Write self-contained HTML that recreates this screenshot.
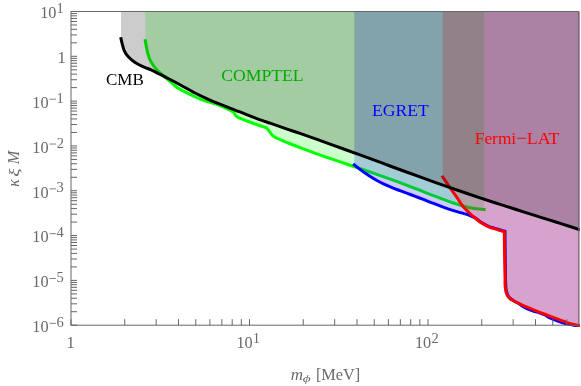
<!DOCTYPE html>
<html><head><meta charset="utf-8"><title>plot</title>
<style>
html,body{margin:0;padding:0;background:#fff;}
body{width:581px;height:386px;overflow:hidden;}
svg{display:block;}
text{font-family:"Liberation Serif",serif;}
</style></head><body>
<svg width="581" height="386" viewBox="0 0 581 386">
<rect width="581" height="386" fill="#fff"/>
<defs><clipPath id="c"><rect x="71.0" y="11.5" width="508.65" height="315.59999999999997"/></clipPath></defs>
<g clip-path="url(#c)" fill="none" stroke-linejoin="miter" stroke-linecap="square">
<path d="M145.30,40.70 C145.43,41.45 145.73,43.30 146.10,45.20 C146.47,47.10 146.92,49.80 147.50,52.10 C148.08,54.40 148.68,56.85 149.60,59.00 C150.52,61.15 151.72,63.13 153.00,65.00 C154.28,66.87 155.57,68.40 157.30,70.20 C159.03,72.00 161.62,74.23 163.40,75.80 C165.18,77.37 166.50,78.30 168.00,79.60 C169.50,80.90 171.15,82.50 172.40,83.60 C173.65,84.70 174.45,85.37 175.50,86.20 C176.55,87.03 177.65,87.90 178.70,88.60 C179.75,89.30 180.77,89.85 181.80,90.40 C182.83,90.95 183.53,91.25 184.90,91.90 C186.27,92.55 187.12,92.98 190.00,94.30 C192.88,95.62 197.02,97.85 202.20,99.80 C207.38,101.75 216.13,104.10 221.10,106.00 C226.07,107.90 230.18,110.33 232.00,111.20 L232.00,111.20 C232.33,111.47 233.28,111.97 234.00,112.80 C234.72,113.63 235.28,115.27 236.30,116.20 C237.32,117.13 237.18,117.18 240.10,118.40 C243.02,119.62 249.38,121.92 253.80,123.50 C258.22,125.08 264.47,127.17 266.60,127.90 L266.60,127.90 C266.87,128.22 267.50,128.88 268.20,129.80 C268.90,130.72 269.90,132.30 270.80,133.40 C271.70,134.50 272.32,135.47 273.60,136.40 C274.88,137.33 275.77,137.77 278.50,139.00 C281.23,140.23 286.08,142.19 290.00,143.76 C293.92,145.33 298.00,146.90 302.00,148.41 C306.00,149.92 310.00,151.38 314.00,152.82 C318.00,154.26 322.00,155.66 326.00,157.05 C330.00,158.44 334.00,159.80 338.00,161.16 C342.00,162.52 346.00,163.87 350.00,165.22 C354.00,166.57 358.00,167.91 362.00,169.27 C366.00,170.63 370.00,171.99 374.00,173.38 C378.00,174.77 382.00,176.16 386.00,177.59 C390.00,179.02 394.00,180.48 398.00,181.96 C402.00,183.44 406.00,184.96 410.00,186.49 C414.00,188.02 418.00,189.59 422.00,191.15 C426.00,192.71 430.00,194.31 434.00,195.85 C438.00,197.39 442.00,198.96 446.00,200.40 C450.00,201.84 454.00,203.29 458.00,204.51 C462.00,205.73 466.00,206.89 470.00,207.70 C474.00,208.50 479.63,209.03 482.00,209.34 C484.37,209.65 483.83,209.52 484.20,209.55 L484.20,11.5 L145.30,11.5 Z" fill="rgb(0,255,0)" fill-opacity="0.2"/>
<path d="M145.30,40.70 C145.43,41.45 145.73,43.30 146.10,45.20 C146.47,47.10 146.92,49.80 147.50,52.10 C148.08,54.40 148.68,56.85 149.60,59.00 C150.52,61.15 151.72,63.13 153.00,65.00 C154.28,66.87 155.57,68.40 157.30,70.20 C159.03,72.00 161.62,74.23 163.40,75.80 C165.18,77.37 166.50,78.30 168.00,79.60 C169.50,80.90 171.15,82.50 172.40,83.60 C173.65,84.70 174.45,85.37 175.50,86.20 C176.55,87.03 177.65,87.90 178.70,88.60 C179.75,89.30 180.77,89.85 181.80,90.40 C182.83,90.95 183.53,91.25 184.90,91.90 C186.27,92.55 187.12,92.98 190.00,94.30 C192.88,95.62 197.02,97.85 202.20,99.80 C207.38,101.75 216.13,104.10 221.10,106.00 C226.07,107.90 230.18,110.33 232.00,111.20 L232.00,111.20 C232.33,111.47 233.28,111.97 234.00,112.80 C234.72,113.63 235.28,115.27 236.30,116.20 C237.32,117.13 237.18,117.18 240.10,118.40 C243.02,119.62 249.38,121.92 253.80,123.50 C258.22,125.08 264.47,127.17 266.60,127.90 L266.60,127.90 C266.87,128.22 267.50,128.88 268.20,129.80 C268.90,130.72 269.90,132.30 270.80,133.40 C271.70,134.50 272.32,135.47 273.60,136.40 C274.88,137.33 275.77,137.77 278.50,139.00 C281.23,140.23 286.08,142.19 290.00,143.76 C293.92,145.33 298.00,146.90 302.00,148.41 C306.00,149.92 310.00,151.38 314.00,152.82 C318.00,154.26 322.00,155.66 326.00,157.05 C330.00,158.44 334.00,159.80 338.00,161.16 C342.00,162.52 346.00,163.87 350.00,165.22 C354.00,166.57 358.00,167.91 362.00,169.27 C366.00,170.63 370.00,171.99 374.00,173.38 C378.00,174.77 382.00,176.16 386.00,177.59 C390.00,179.02 394.00,180.48 398.00,181.96 C402.00,183.44 406.00,184.96 410.00,186.49 C414.00,188.02 418.00,189.59 422.00,191.15 C426.00,192.71 430.00,194.31 434.00,195.85 C438.00,197.39 442.00,198.96 446.00,200.40 C450.00,201.84 454.00,203.29 458.00,204.51 C462.00,205.73 466.00,206.89 470.00,207.70 C474.00,208.50 479.63,209.03 482.00,209.34 C484.37,209.65 483.83,209.52 484.20,209.55" stroke="rgb(0,255,0)" stroke-width="3.0"/>
<path d="M354.30,164.80 C355.25,165.56 357.72,167.62 360.00,169.33 C362.28,171.04 365.33,173.29 368.00,175.07 C370.67,176.85 373.33,178.49 376.00,179.99 C378.67,181.50 381.33,182.83 384.00,184.10 C386.67,185.37 389.33,186.49 392.00,187.59 C394.67,188.69 397.33,189.69 400.00,190.70 C402.67,191.71 405.33,192.67 408.00,193.66 C410.67,194.65 413.33,195.64 416.00,196.65 C418.67,197.66 421.33,198.69 424.00,199.72 C426.67,200.75 429.33,201.82 432.00,202.85 C434.67,203.88 437.33,204.93 440.00,205.92 C442.67,206.91 445.33,207.89 448.00,208.80 C450.67,209.71 453.33,210.56 456.00,211.37 C458.67,212.18 461.67,212.98 464.00,213.68 C466.33,214.38 468.22,214.95 470.00,215.60 C471.78,216.25 473.15,216.72 474.70,217.60 C476.25,218.48 477.75,219.87 479.30,220.90 C480.85,221.93 482.45,222.90 484.00,223.80 C485.55,224.70 487.05,225.63 488.60,226.30 C490.15,226.97 491.73,227.30 493.30,227.80 C494.87,228.30 496.45,228.83 498.00,229.30 C499.55,229.77 501.43,230.27 502.60,230.60 C503.77,230.93 504.60,231.18 505.00,231.30 L505.00,231.30 C505.03,234.58 505.10,242.53 505.20,251.00 C505.30,259.47 505.38,275.37 505.60,282.10 C505.82,288.83 505.93,288.87 506.50,291.40 C507.07,293.93 507.75,295.72 509.00,297.30 C510.25,298.88 512.33,299.82 514.00,300.90 C515.67,301.98 517.33,302.77 519.00,303.80 C520.67,304.83 521.73,305.93 524.00,307.10 C526.27,308.27 529.93,309.82 532.60,310.80 C535.27,311.78 537.93,312.30 540.00,313.00 C542.07,313.70 543.37,314.20 545.00,315.00 C546.63,315.80 547.55,316.73 549.80,317.80 C552.05,318.87 555.97,320.43 558.50,321.40 C561.03,322.37 563.25,323.13 565.00,323.60 C566.75,324.07 567.52,323.92 569.00,324.20 C570.48,324.48 572.07,325.00 573.90,325.30 C575.73,325.60 578.98,325.88 580.00,326.00 L580.00,11.5 L354.30,11.5 Z" fill="rgb(0,0,255)" fill-opacity="0.2"/>
<path d="M354.30,164.80 C355.25,165.56 357.72,167.62 360.00,169.33 C362.28,171.04 365.33,173.29 368.00,175.07 C370.67,176.85 373.33,178.49 376.00,179.99 C378.67,181.50 381.33,182.83 384.00,184.10 C386.67,185.37 389.33,186.49 392.00,187.59 C394.67,188.69 397.33,189.69 400.00,190.70 C402.67,191.71 405.33,192.67 408.00,193.66 C410.67,194.65 413.33,195.64 416.00,196.65 C418.67,197.66 421.33,198.69 424.00,199.72 C426.67,200.75 429.33,201.82 432.00,202.85 C434.67,203.88 437.33,204.93 440.00,205.92 C442.67,206.91 445.33,207.89 448.00,208.80 C450.67,209.71 453.33,210.56 456.00,211.37 C458.67,212.18 461.67,212.98 464.00,213.68 C466.33,214.38 468.22,214.95 470.00,215.60 C471.78,216.25 473.15,216.72 474.70,217.60 C476.25,218.48 477.75,219.87 479.30,220.90 C480.85,221.93 482.45,222.90 484.00,223.80 C485.55,224.70 487.05,225.63 488.60,226.30 C490.15,226.97 491.73,227.30 493.30,227.80 C494.87,228.30 496.45,228.83 498.00,229.30 C499.55,229.77 501.43,230.27 502.60,230.60 C503.77,230.93 504.60,231.18 505.00,231.30 L505.00,231.30 C505.03,234.58 505.10,242.53 505.20,251.00 C505.30,259.47 505.38,275.37 505.60,282.10 C505.82,288.83 505.93,288.87 506.50,291.40 C507.07,293.93 507.75,295.72 509.00,297.30 C510.25,298.88 512.33,299.82 514.00,300.90 C515.67,301.98 517.33,302.77 519.00,303.80 C520.67,304.83 521.73,305.93 524.00,307.10 C526.27,308.27 529.93,309.82 532.60,310.80 C535.27,311.78 537.93,312.30 540.00,313.00 C542.07,313.70 543.37,314.20 545.00,315.00 C546.63,315.80 547.55,316.73 549.80,317.80 C552.05,318.87 555.97,320.43 558.50,321.40 C561.03,322.37 563.25,323.13 565.00,323.60 C566.75,324.07 567.52,323.92 569.00,324.20 C570.48,324.48 572.07,325.00 573.90,325.30 C575.73,325.60 578.98,325.88 580.00,326.00" stroke="rgb(0,0,255)" stroke-width="3.0"/>
<path d="M442.80,177.00 C443.55,178.12 445.77,181.42 447.30,183.70 C448.83,185.98 450.43,188.45 452.00,190.70 C453.57,192.95 455.12,194.90 456.70,197.20 C458.28,199.50 460.07,202.55 461.50,204.50 C462.93,206.45 463.88,207.40 465.30,208.90 C466.72,210.40 468.43,212.03 470.00,213.50 C471.57,214.97 473.15,216.37 474.70,217.70 C476.25,219.03 477.75,220.38 479.30,221.50 C480.85,222.62 482.45,223.50 484.00,224.40 C485.55,225.30 487.05,226.23 488.60,226.90 C490.15,227.57 491.73,227.90 493.30,228.40 C494.87,228.90 496.45,229.43 498.00,229.90 C499.55,230.37 501.55,230.90 502.60,231.20 C503.65,231.50 504.02,231.62 504.30,231.70 L504.30,231.70 C504.33,234.92 504.38,243.78 504.50,251.00 C504.62,258.22 504.90,269.30 505.00,275.00 C505.10,280.70 504.93,282.35 505.10,285.20 C505.27,288.05 505.43,290.08 506.00,292.10 C506.57,294.12 507.22,295.87 508.50,297.30 C509.78,298.73 511.12,299.27 513.70,300.70 C516.28,302.13 520.85,304.47 524.00,305.90 C527.15,307.33 529.73,308.15 532.60,309.30 C535.47,310.45 538.33,311.67 541.20,312.80 C544.07,313.93 546.92,315.00 549.80,316.10 C552.68,317.20 555.62,318.32 558.50,319.40 C561.38,320.48 564.53,321.75 567.10,322.60 C569.67,323.45 571.75,324.00 573.90,324.50 C576.05,325.00 578.98,325.42 580.00,325.60 L580.00,11.5 L442.80,11.5 Z" fill="rgb(255,0,0)" fill-opacity="0.2"/>
<path d="M442.80,177.00 C443.55,178.12 445.77,181.42 447.30,183.70 C448.83,185.98 450.43,188.45 452.00,190.70 C453.57,192.95 455.12,194.90 456.70,197.20 C458.28,199.50 460.07,202.55 461.50,204.50 C462.93,206.45 463.88,207.40 465.30,208.90 C466.72,210.40 468.43,212.03 470.00,213.50 C471.57,214.97 473.15,216.37 474.70,217.70 C476.25,219.03 477.75,220.38 479.30,221.50 C480.85,222.62 482.45,223.50 484.00,224.40 C485.55,225.30 487.05,226.23 488.60,226.90 C490.15,227.57 491.73,227.90 493.30,228.40 C494.87,228.90 496.45,229.43 498.00,229.90 C499.55,230.37 501.55,230.90 502.60,231.20 C503.65,231.50 504.02,231.62 504.30,231.70 L504.30,231.70 C504.33,234.92 504.38,243.78 504.50,251.00 C504.62,258.22 504.90,269.30 505.00,275.00 C505.10,280.70 504.93,282.35 505.10,285.20 C505.27,288.05 505.43,290.08 506.00,292.10 C506.57,294.12 507.22,295.87 508.50,297.30 C509.78,298.73 511.12,299.27 513.70,300.70 C516.28,302.13 520.85,304.47 524.00,305.90 C527.15,307.33 529.73,308.15 532.60,309.30 C535.47,310.45 538.33,311.67 541.20,312.80 C544.07,313.93 546.92,315.00 549.80,316.10 C552.68,317.20 555.62,318.32 558.50,319.40 C561.38,320.48 564.53,321.75 567.10,322.60 C569.67,323.45 571.75,324.00 573.90,324.50 C576.05,325.00 578.98,325.42 580.00,325.60" stroke="rgb(255,0,0)" stroke-width="3.0"/>
<path d="M121.00,38.70 C121.20,39.55 121.70,41.92 122.20,43.80 C122.70,45.68 123.22,48.10 124.00,50.00 C124.78,51.90 125.63,53.55 126.90,55.20 C128.17,56.85 129.95,58.52 131.60,59.90 C133.25,61.28 134.82,62.35 136.80,63.50 C138.78,64.65 141.12,65.73 143.50,66.80 C145.88,67.87 149.02,68.98 151.10,69.90 C153.18,70.82 154.43,71.52 156.00,72.30 C157.57,73.08 159.00,73.83 160.50,74.60 C162.00,75.37 161.75,75.22 165.00,76.90 C168.25,78.58 175.00,82.02 180.00,84.70 C185.00,87.38 190.00,90.45 195.00,93.00 C200.00,95.55 205.00,97.83 210.00,100.02 C215.00,102.21 220.00,104.18 225.00,106.16 C230.00,108.14 235.00,109.98 240.00,111.92 C245.00,113.86 250.00,115.92 255.00,117.80 C260.00,119.68 265.00,121.43 270.00,123.20 C275.00,124.97 280.00,126.70 285.00,128.40 C290.00,130.10 295.00,131.68 300.00,133.40 C305.00,135.12 310.00,136.93 315.00,138.71 C320.00,140.49 325.00,142.28 330.00,144.08 C335.00,145.88 340.00,147.68 345.00,149.49 C350.00,151.30 355.00,153.13 360.00,154.96 C365.00,156.79 370.00,158.62 375.00,160.46 C380.00,162.30 385.00,164.13 390.00,165.97 C395.00,167.81 400.00,169.65 405.00,171.47 C410.00,173.29 415.00,175.11 420.00,176.92 C425.00,178.73 430.00,180.53 435.00,182.31 C440.00,184.09 445.00,185.86 450.00,187.60 C455.00,189.34 460.00,191.07 465.00,192.77 C470.00,194.47 475.00,196.15 480.00,197.81 C485.00,199.47 490.00,201.10 495.00,202.71 C500.00,204.32 505.00,205.86 510.00,207.47 C515.00,209.08 520.00,210.75 525.00,212.35 C530.00,213.95 535.00,215.52 540.00,217.10 C545.00,218.68 550.00,220.23 555.00,221.80 C560.00,223.37 565.83,225.18 570.00,226.50 C574.17,227.82 578.33,229.17 580.00,229.70 L580.00,11.5 L121.00,11.5 Z" fill="rgb(0,0,0)" fill-opacity="0.2"/>
<path d="M121.00,38.70 C121.20,39.55 121.70,41.92 122.20,43.80 C122.70,45.68 123.22,48.10 124.00,50.00 C124.78,51.90 125.63,53.55 126.90,55.20 C128.17,56.85 129.95,58.52 131.60,59.90 C133.25,61.28 134.82,62.35 136.80,63.50 C138.78,64.65 141.12,65.73 143.50,66.80 C145.88,67.87 149.02,68.98 151.10,69.90 C153.18,70.82 154.43,71.52 156.00,72.30 C157.57,73.08 159.00,73.83 160.50,74.60 C162.00,75.37 161.75,75.22 165.00,76.90 C168.25,78.58 175.00,82.02 180.00,84.70 C185.00,87.38 190.00,90.45 195.00,93.00 C200.00,95.55 205.00,97.83 210.00,100.02 C215.00,102.21 220.00,104.18 225.00,106.16 C230.00,108.14 235.00,109.98 240.00,111.92 C245.00,113.86 250.00,115.92 255.00,117.80 C260.00,119.68 265.00,121.43 270.00,123.20 C275.00,124.97 280.00,126.70 285.00,128.40 C290.00,130.10 295.00,131.68 300.00,133.40 C305.00,135.12 310.00,136.93 315.00,138.71 C320.00,140.49 325.00,142.28 330.00,144.08 C335.00,145.88 340.00,147.68 345.00,149.49 C350.00,151.30 355.00,153.13 360.00,154.96 C365.00,156.79 370.00,158.62 375.00,160.46 C380.00,162.30 385.00,164.13 390.00,165.97 C395.00,167.81 400.00,169.65 405.00,171.47 C410.00,173.29 415.00,175.11 420.00,176.92 C425.00,178.73 430.00,180.53 435.00,182.31 C440.00,184.09 445.00,185.86 450.00,187.60 C455.00,189.34 460.00,191.07 465.00,192.77 C470.00,194.47 475.00,196.15 480.00,197.81 C485.00,199.47 490.00,201.10 495.00,202.71 C500.00,204.32 505.00,205.86 510.00,207.47 C515.00,209.08 520.00,210.75 525.00,212.35 C530.00,213.95 535.00,215.52 540.00,217.10 C545.00,218.68 550.00,220.23 555.00,221.80 C560.00,223.37 565.83,225.18 570.00,226.50 C574.17,227.82 578.33,229.17 580.00,229.70" stroke="rgb(0,0,0)" stroke-width="3.0"/>
</g>
<g stroke="#666" stroke-width="1" fill="none">
<rect x="71.0" y="11.5" width="507.75" height="313.7"/>
<path d="M71.0,325.20h6 M71.0,311.71h6 M71.0,303.82h6 M71.0,298.22h6 M71.0,293.88h6 M71.0,290.33h6 M71.0,287.33h6 M71.0,284.73h6 M71.0,282.44h6 M71.0,280.39h6 M71.0,266.90h6 M71.0,259.00h6 M71.0,253.40h6 M71.0,249.06h6 M71.0,245.51h6 M71.0,242.51h6 M71.0,239.91h6 M71.0,237.62h6 M71.0,235.57h6 M71.0,222.08h6 M71.0,214.19h6 M71.0,208.59h6 M71.0,204.25h6 M71.0,200.70h6 M71.0,197.70h6 M71.0,195.10h6 M71.0,192.81h6 M71.0,190.76h6 M71.0,177.27h6 M71.0,169.38h6 M71.0,163.78h6 M71.0,159.43h6 M71.0,155.88h6 M71.0,152.88h6 M71.0,150.29h6 M71.0,147.99h6 M71.0,145.94h6 M71.0,132.45h6 M71.0,124.56h6 M71.0,118.96h6 M71.0,114.62h6 M71.0,111.07h6 M71.0,108.07h6 M71.0,105.47h6 M71.0,103.18h6 M71.0,101.13h6 M71.0,87.64h6 M71.0,79.75h6 M71.0,74.15h6 M71.0,69.80h6 M71.0,66.26h6 M71.0,63.26h6 M71.0,60.66h6 M71.0,58.36h6 M71.0,56.31h6 M71.0,42.82h6 M71.0,34.93h6 M71.0,29.33h6 M71.0,24.99h6 M71.0,21.44h6 M71.0,18.44h6 M71.0,15.84h6 M71.0,13.55h6 M71.00,325.2v-6 M124.73,325.2v-6 M156.17,325.2v-6 M178.47,325.2v-6 M195.77,325.2v-6 M209.90,325.2v-6 M221.85,325.2v-6 M232.20,325.2v-6 M241.33,325.2v-6 M249.50,325.2v-6 M303.23,325.2v-6 M334.67,325.2v-6 M356.97,325.2v-6 M374.27,325.2v-6 M388.40,325.2v-6 M400.35,325.2v-6 M410.70,325.2v-6 M419.83,325.2v-6 M428.00,325.2v-6 M481.73,325.2v-6 M513.17,325.2v-6 M535.47,325.2v-6 M552.77,325.2v-6 M566.90,325.2v-6"/>
</g>
<g fill="#6a6a6a" opacity="0.999">
<text transform="translate(40.22,18.30) scale(0.9564,1.0000)" font-size="17px">10</text>
<text transform="translate(56.40,13.25) scale(1.0000,1.0000)" font-size="14.5px">1</text>
<text transform="translate(57.47,63.21) scale(0.9833,1.0000)" font-size="17px">1</text>
<text transform="translate(32.32,107.93) scale(0.9564,1.0000)" font-size="17px">10</text>
<text transform="translate(56.40,102.88) scale(1.0000,1.0000)" font-size="14.5px">1</text>
<path d="M49.6,99.23h6.3" stroke="#6a6a6a" stroke-width="0.85" fill="none"/>
<text transform="translate(32.32,152.74) scale(0.9564,1.0000)" font-size="17px">10</text>
<text transform="translate(56.75,147.69) scale(1.0000,1.0000)" font-size="14.5px">2</text>
<path d="M49.6,144.04h6.3" stroke="#6a6a6a" stroke-width="0.85" fill="none"/>
<text transform="translate(32.32,197.56) scale(0.9564,1.0000)" font-size="17px">10</text>
<text transform="translate(56.55,192.41) scale(1.0000,1.0000)" font-size="14.5px">3</text>
<path d="M49.6,188.86h6.3" stroke="#6a6a6a" stroke-width="0.85" fill="none"/>
<text transform="translate(32.32,242.37) scale(0.9564,1.0000)" font-size="17px">10</text>
<text transform="translate(56.60,237.32) scale(1.0000,1.0000)" font-size="14.5px">4</text>
<path d="M49.6,233.67h6.3" stroke="#6a6a6a" stroke-width="0.85" fill="none"/>
<text transform="translate(32.32,287.19) scale(0.9564,1.0000)" font-size="17px">10</text>
<text transform="translate(56.50,282.04) scale(1.0000,1.0000)" font-size="14.5px">5</text>
<path d="M49.6,278.49h6.3" stroke="#6a6a6a" stroke-width="0.85" fill="none"/>
<text transform="translate(32.32,332.00) scale(0.9564,1.0000)" font-size="17px">10</text>
<text transform="translate(56.55,326.85) scale(1.0000,1.0000)" font-size="14.5px">6</text>
<path d="M49.6,323.30h6.3" stroke="#6a6a6a" stroke-width="0.85" fill="none"/>
<text transform="translate(66.60,348.00) scale(0.9667,1.0000)" font-size="17px">1</text>
<text transform="translate(236.47,348.25) scale(0.9530,1.0000)" font-size="17px">10</text>
<text transform="translate(252.75,342.75) scale(1.0000,1.0000)" font-size="14.5px">1</text>
<text transform="translate(414.97,348.25) scale(0.9530,1.0000)" font-size="17px">10</text>
<text transform="translate(431.60,342.75) scale(1.0000,1.0000)" font-size="14.5px">2</text>
<text transform="translate(290.68,379.90) scale(1.0283,1.0000)" font-size="16.5px" style="font-style:italic">m</text>
<text transform="translate(302.73,382.08) scale(1.2203,0.8938)" font-size="12.5px" style="font-style:italic">ϕ</text>
<text transform="translate(315.91,380.30) scale(0.9882,1.0000)" font-size="16.5px">[MeV]</text>
<g transform="translate(18.6,186.4) rotate(-90)">
<text transform="translate(-0.47,0.00) scale(0.9467,1.0000)" font-size="16.5px" style="font-style:italic">κ</text>
<text transform="translate(9.59,0.28) scale(1.1846,0.9375)" font-size="16.5px" style="font-style:italic">ξ</text>
<text transform="translate(22.10,0.00) scale(0.9864,1.0000)" font-size="16.5px" style="font-style:italic">M</text>
</g>
</g>
<g opacity="0.999">
<text transform="translate(106.00,85.10) scale(1.0028,1.0000)" font-size="17px" fill="#000">CMB</text>
<text transform="translate(221.17,80.70) scale(1.0399,1.0000)" font-size="17px" fill="rgb(0,170,0)">COMPTEL</text>
<text transform="translate(371.88,116.20) scale(1.0389,1.0000)" font-size="17px" fill="rgb(0,0,255)">EGRET</text>
<text transform="translate(474.79,143.50) scale(1.0201,1.0000)" font-size="17px" fill="rgb(255,0,0)">Fermi</text>
<path d="M517.2,138.3h9" stroke="rgb(255,0,0)" stroke-width="0.9" fill="none"/>
<text transform="translate(526.77,143.70) scale(1.0526,1.0000)" font-size="17px" fill="rgb(255,0,0)">LAT</text>
</g>
</svg></body></html>
